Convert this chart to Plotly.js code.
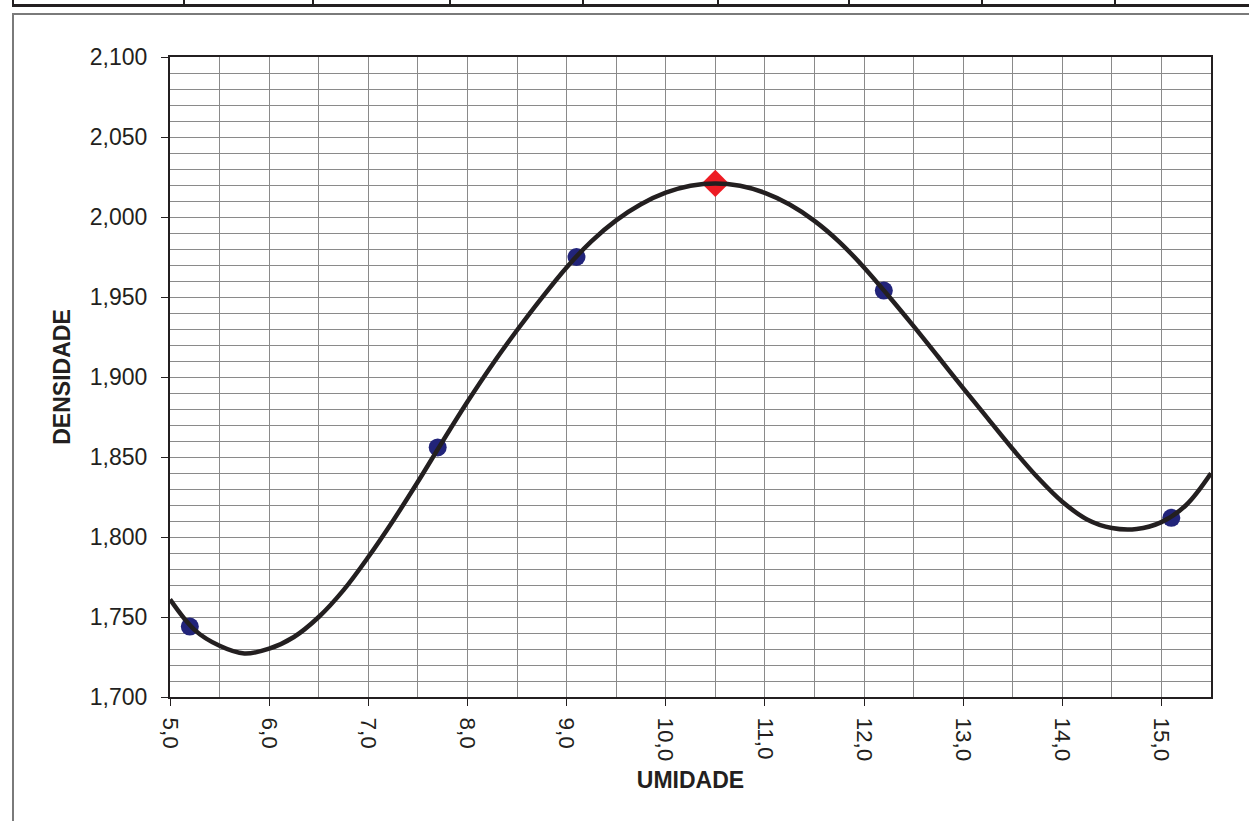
<!DOCTYPE html>
<html>
<head>
<meta charset="utf-8">
<script src="https://cdn.plot.ly/plotly-3.0.1.min.js"></script>
<style>
  html, body { margin: 0; padding: 0; background: #ffffff; }
  #wrap { position: relative; width: 1249px; height: 821px; overflow: hidden; }
  #chart { position: absolute; left: 0; top: 0; width: 1249px; height: 821px; }
  .frame { position: absolute; left: 12px; top: 13px; width: 1260px; height: 830px;
           border-left: 2px solid #7a7a7a; border-top: 2px solid #7a7a7a; pointer-events: none; }
  .tbl-h { position: absolute; left: 12px; top: 4px; width: 1240px; height: 3px; background: #231f20; }
  .tbl-v { position: absolute; top: 0; width: 2px; height: 6px; background: #231f20; }
</style>
</head>
<body>
<div id="wrap">
  <div id="chart"></div>
  <div class="frame"></div>
  <div class="tbl-h"></div>
  <div id="tblv"></div>
</div>
<script>
// Ensaio de compactação: pontos medidos
const umidade = [5.2, 7.7, 9.1, 12.2, 15.1];
const densidade = [1.744, 1.856, 1.975, 1.954, 1.812];

// Ponto ótimo (umidade ótima / densidade máxima)
const umidadeOtima = [10.5];
const densidadeMaxima = [2.021];

// Curva de compactação (a cada 0,25)
const curvaUmidade = [5.0, 5.25, 5.5, 5.75, 6.0, 6.25, 6.5, 6.75, 7.0, 7.25, 7.5, 7.75, 8.0, 8.25, 8.5, 8.75,
                      9.0, 9.25, 9.5, 9.75, 10.0, 10.25, 10.5, 10.75, 11.0, 11.25, 11.5, 11.75, 12.0, 12.25,
                      12.5, 12.75, 13.0, 13.25, 13.5, 13.75, 14.0, 14.25, 14.5, 14.75, 15.0, 15.25, 15.5];
const curvaDensidade = [1.7610, 1.7418, 1.7320, 1.7272, 1.7302, 1.7375, 1.7500, 1.7668, 1.7875, 1.8102, 1.8345, 1.8598, 1.8845, 1.9077, 1.9292, 1.9495,
                        1.9685, 1.9848, 1.9979, 2.0080, 2.0152, 2.0195, 2.0210, 2.0195, 2.0151, 2.0078, 1.9976, 1.9845, 1.9685, 1.9505,
                        1.9318, 1.9125, 1.8930, 1.8740, 1.8550, 1.8373, 1.8220, 1.8110, 1.8056, 1.8050, 1.8093, 1.8200, 1.8398];

// Decorative table separators at the top of the page (pixel positions)
const tableSeparators = [12, 183, 312, 449, 582, 717, 848, 981, 1114];
const tv = document.getElementById('tblv');
tableSeparators.forEach(function (px) {
  const d = document.createElement('div');
  d.className = 'tbl-v';
  d.style.left = px + 'px';
  tv.appendChild(d);
});

const font = 'Liberation Sans, Arial, Helvetica, sans-serif';
const ink = '#231f20';
const grid = '#8a8a8a';

const traces = [
  {
    x: umidade, y: densidade, type: 'scatter', mode: 'markers',
    marker: { symbol: 'circle', size: 18, color: '#22247a' },
    hoverinfo: 'x+y', showlegend: false
  },
  {
    x: umidadeOtima, y: densidadeMaxima, type: 'scatter', mode: 'markers',
    marker: { symbol: 'diamond', size: 21, color: '#ed1c24' },
    hoverinfo: 'x+y', showlegend: false
  },
  {
    x: curvaUmidade, y: curvaDensidade, type: 'scatter', mode: 'lines',
    line: { color: ink, width: 4.5, shape: 'spline', smoothing: 1 },
    hoverinfo: 'skip', showlegend: false
  }
];

const layout = {
  width: 1249, height: 821,
  margin: { l: 170, r: 38, t: 57, b: 124 },
  paper_bgcolor: 'rgba(0,0,0,0)',
  plot_bgcolor: '#ffffff',
  separators: ',.',
  font: { family: font, color: ink, size: 22 },
  showlegend: false,
  xaxis: {
    range: [5, 15.5], tick0: 5, dtick: 1, tickformat: '.1f',
    tickangle: 90, ticks: 'outside', ticklen: 7, tickwidth: 1, tickcolor: ink,
    ticklabelstandoff: 7,
    tickfont: { family: font, size: 22.5, color: ink },
    showline: true, linecolor: ink, linewidth: 2, mirror: true,
    showgrid: true, gridcolor: grid, gridwidth: 1, zeroline: false,
    minor: { dtick: 0.5, showgrid: true, gridcolor: grid, gridwidth: 1, ticks: '' },
    title: { text: '<b>UMIDADE</b>', font: { family: font, size: 23, color: ink }, standoff: 12 }
  },
  yaxis: {
    range: [1.7, 2.1], tick0: 1.7, dtick: 0.05, tickformat: '.3f',
    ticks: 'outside', ticklen: 7, tickwidth: 1, tickcolor: ink,
    ticklabelstandoff: 9,
    tickfont: { family: font, size: 23, color: ink },
    showline: true, linecolor: ink, linewidth: 2, mirror: true,
    showgrid: true, gridcolor: grid, gridwidth: 1, zeroline: false,
    minor: { dtick: 0.01, showgrid: true, gridcolor: grid, gridwidth: 1, ticks: '' },
    title: { text: '<b>DENSIDADE</b>', font: { family: font, size: 23, color: ink }, standoff: 13 }
  }
};

Plotly.newPlot('chart', traces, layout, { staticPlot: true, displayModeBar: false });
</script>
</body>
</html>
